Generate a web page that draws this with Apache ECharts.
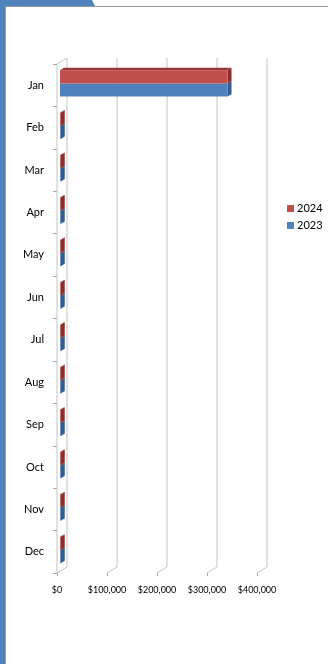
<!DOCTYPE html>
<html>
<head>
<meta charset="utf-8">
<script src="https://cdn.jsdelivr.net/npm/echarts@6/dist/echarts.min.js"></script>
<style>
  html, body { margin: 0; padding: 0; background: #ffffff; }
  #chart { width: 328px; height: 664px; }
</style>
</head>
<body>
<div id="chart"></div>
<script>
// Monthly totals, two years
const months = ['Jan', 'Feb', 'Mar', 'Apr', 'May', 'Jun', 'Jul', 'Aug', 'Sep', 'Oct', 'Nov', 'Dec'];
const sales2024 = [335000, 1500, 1500, 1500, 1500, 1500, 1500, 1500, 1500, 1500, 1500, 1500];
const sales2023 = [335000, 1500, 1500, 1500, 1500, 1500, 1500, 1500, 1500, 1500, 1500, 1500];
const xTicks = [0, 100000, 200000, 300000, 400000];

const FONT = 'Lato, "Open Sans", sans-serif';
const DEPTH_X = 10, DEPTH_Y = -6;      // full depth of the 3D box
const BAR_FRONT = 0.3, BAR_BACK = 0.7; // depth slice occupied by the bars
const BAR_FRAC = 0.31;                 // each bar's share of a category band

const palette = {
  '2024': { front: '#c0504d', top: '#943634', side: '#8c2f2c' },
  '2023': { front: '#4f81bd', top: '#3d6a9f', side: '#345d8c' }
};

function money(v) {
  return '$' + v.toLocaleString('en-US');
}

// One 3D bar: front face, right face and (for the upper bar) the top face
function bar3d(name, upper) {
  const c = palette[name];
  return function (params, api) {
    const v = api.value(0), idx = api.value(1);
    const p0 = api.coord([0, idx]);
    const p1 = api.coord([v, idx]);
    const band = api.size([0, 1])[1];
    const h = band * BAR_FRAC;
    const fx = BAR_FRONT * DEPTH_X, fy = BAR_FRONT * DEPTH_Y;
    const bx = (BAR_BACK - BAR_FRONT) * DEPTH_X, by = (BAR_BACK - BAR_FRONT) * DEPTH_Y;
    const x0 = p0[0] + fx, x1 = Math.max(p1[0] + fx, x0 + 0.5);
    const yTop = (upper ? p0[1] - h : p0[1]) + fy;
    const yBot = yTop + h;
    const children = [
      { type: 'polygon', shape: { points: [[x1, yTop], [x1, yBot], [x1 + bx, yBot + by], [x1 + bx, yTop + by]] },
        style: { fill: c.side } },
      { type: 'rect', shape: { x: x0, y: yTop, width: x1 - x0, height: h },
        style: { fill: c.front } }
    ];
    if (upper) {
      children.push({ type: 'polygon',
        shape: { points: [[x0, yTop], [x1, yTop], [x1 + bx, yTop + by], [x0 + bx, yTop + by]] },
        style: { fill: c.top } });
    }
    return { type: 'group', children: children };
  };
}

// Back wall gridlines, floor edges and the side wall
function frame(params, api) {
  const cs = params.coordSys;
  const top = cs.y, bottom = cs.y + cs.height;
  const x = api.coord([api.value(0), 0])[0];
  const stroke = { stroke: '#c4c4c4', lineWidth: 1, fill: null };
  const children = [
    { type: 'polyline', shape: { points: [[x + DEPTH_X, top + DEPTH_Y], [x + DEPTH_X, bottom + DEPTH_Y], [x, bottom]] },
      style: stroke }
  ];
  if (api.value(0) === 0) {
    children.push({ type: 'polyline',
      shape: { points: [[x, bottom], [x, top], [x + DEPTH_X, top + DEPTH_Y]] }, style: stroke });
  }
  return { type: 'group', children: children };
}

const chart = echarts.init(document.getElementById('chart'), null, { renderer: 'canvas' });

chart.setOption({
  animation: false,
  backgroundColor: '#ffffff',
  textStyle: { fontFamily: FONT },
  graphic: [
    { type: 'rect', shape: { x: 0, y: 0, width: 5, height: 664 }, style: { fill: '#4f81bd' }, z: 10 },
    { type: 'polygon', shape: { points: [[0, 0], [92, 0], [95, 6], [0, 6]] }, style: { fill: '#4f81bd' }, z: 10 },
    { type: 'line', shape: { x1: 5, y1: 6.5, x2: 328, y2: 6.5 }, style: { stroke: '#9a9a9a', lineWidth: 1 }, z: 10 },
    { type: 'line', shape: { x1: 5.5, y1: 6, x2: 5.5, y2: 664 }, style: { stroke: '#9a9a9a', lineWidth: 1 }, z: 10 }
  ],
  legend: {
    orient: 'vertical',
    left: 282,
    top: 198,
    itemWidth: 7,
    itemHeight: 7,
    itemGap: 6,
    icon: 'rect',
    textStyle: { fontFamily: FONT, fontSize: 11, color: '#000', padding: [0, 0, 0, -2] },
    data: [
      { name: '2024', itemStyle: { color: palette['2024'].front } },
      { name: '2023', itemStyle: { color: palette['2023'].front } }
    ]
  },
  grid: { left: 57, right: 71, top: 64, bottom: 91, containLabel: false },
  xAxis: {
    type: 'value',
    min: 0,
    max: 400000,
    interval: 100000,
    axisLine: { show: false },
    axisTick: { show: true, length: 3, lineStyle: { color: '#a6a6a6' } },
    splitLine: { show: false },
    axisLabel: { fontFamily: FONT, fontSize: 9, color: '#000', margin: 13, formatter: money }
  },
  yAxis: {
    type: 'category',
    inverse: true,
    data: months,
    axisLine: { show: false },
    axisTick: { show: true, length: 4, lineStyle: { color: '#a6a6a6' } },
    axisLabel: { fontFamily: FONT, fontSize: 11, color: '#000', margin: 13, padding: [3, 0, 0, 0] }
  },
  series: [
    {
      name: 'frame',
      type: 'custom',
      silent: true,
      renderItem: frame,
      data: xTicks.map(v => [v, 0]),
      encode: { x: 0, y: 1 },
      z: 1
    },
    {
      name: '2024',
      type: 'custom',
      renderItem: bar3d('2024', true),
      itemStyle: { color: palette['2024'].front },
      data: sales2024.map((v, i) => [v, i]),
      encode: { x: 0, y: 1 },
      z: 3
    },
    {
      name: '2023',
      type: 'custom',
      renderItem: bar3d('2023', false),
      itemStyle: { color: palette['2023'].front },
      data: sales2023.map((v, i) => [v, i]),
      encode: { x: 0, y: 1 },
      z: 2
    }
  ]
});
</script>
</body>
</html>
